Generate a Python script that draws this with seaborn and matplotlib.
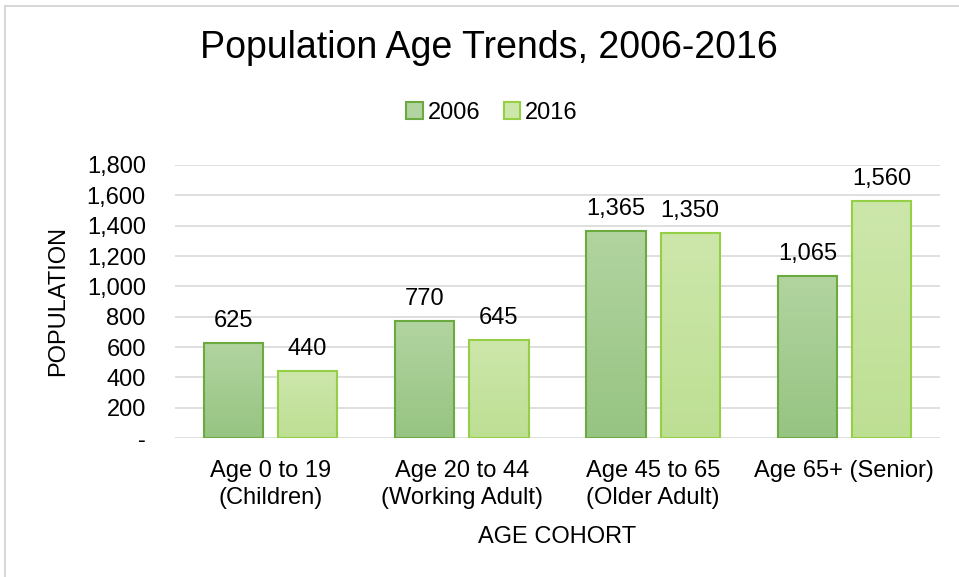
import matplotlib
matplotlib.use("Agg")
import matplotlib.pyplot as plt
import seaborn as sns
import pandas as pd
import numpy as np
from matplotlib.lines import Line2D
from matplotlib.patches import Patch
from matplotlib.colors import LinearSegmentedColormap

categories = ["Age 0 to 19\n(Children)", "Age 20 to 44\n(Working Adult)",
              "Age 45 to 65\n(Older Adult)", "Age 65+ (Senior)"]
years = ["2006", "2016"]
values_2006 = [625, 770, 1365, 1065]
values_2016 = [440, 645, 1350, 1560]

df = pd.DataFrame({
    "cohort": categories * 2,
    "year": [years[0]] * 4 + [years[1]] * 4,
    "pop": values_2006 + values_2016,
})

sns.set_theme(style="white")
plt.rcParams["font.family"] = ["Liberation Sans", "DejaVu Sans"]
plt.rcParams["text.color"] = "black"
plt.rcParams["axes.labelcolor"] = "black"
plt.rcParams["xtick.color"] = "black"
plt.rcParams["ytick.color"] = "black"

FS = 17

fig = plt.figure(figsize=(9.59, 5.77), dpi=100)
ax = fig.add_axes([175/959, 1-438/577, 765/959, (438-165)/577])

edge_cols = {"2006": "#6aaa3e", "2016": "#95cf45"}
top_cols = {"2006": "#b2d4a0", "2016": "#cde7ab"}
bot_cols = {"2006": "#96c482", "2016": "#bddf93"}

sns.barplot(data=df, x="cohort", y="pop", hue="year", hue_order=years,
            palette={"2006": "#a5cc92", "2016": "#c6e3a0"},
            width=0.775, gap=0.2, ax=ax, legend=False, errorbar=None,
            linewidth=1.5, zorder=3)

ax.set_xlim(-0.5, 3.5)
ax.set_ylim(0, 1800)

for i, cont in enumerate(ax.containers):
    yr = years[i]
    cmap = LinearSegmentedColormap.from_list("g", [top_cols[yr], bot_cols[yr]])
    labels = [f"{v:,.0f}" for v in cont.datavalues]
    texts = ax.bar_label(cont, labels=labels, padding=8, fontsize=FS, color="black")
    for t in texts:
        t.set_zorder(10)
    for p in cont.patches:
        p.set_edgecolor(edge_cols[yr])
        p.set_linewidth(1.5)
        x0, y0 = p.get_x(), p.get_y()
        w, h = p.get_width(), p.get_height()
        grad = np.linspace(1, 0, 256).reshape(-1, 1)
        im = ax.imshow(grad, cmap=cmap, aspect="auto", vmin=0, vmax=1,
                       extent=[x0, x0 + w, y0, y0 + h], zorder=3.5,
                       origin="lower")
        im.set_clip_path(p)
        p.set_facecolor("none")
        p.set_zorder(4)

ax.set_xlim(-0.5, 3.5)
ax.set_ylim(0, 1800)
ax.set_yticks(range(0, 1801, 200))
ax.set_yticklabels(["-"] + [f"{v:,}" for v in range(200, 1801, 200)], fontsize=FS)
ax.tick_params(axis="x", labelsize=FS, length=0, pad=16)
for lbl in ax.get_xticklabels():
    lbl.set_linespacing(1.3)
ax.tick_params(axis="y", length=0, pad=21)
ax.yaxis.grid(True, color="#d9d9d9", linewidth=1.2, zorder=0)
ax.set_axisbelow(True)
for s in ax.spines.values():
    s.set_visible(False)

ax.set_xlabel("AGE COHORT", fontsize=FS, labelpad=12)
ax.set_ylabel("POPULATION", fontsize=FS, labelpad=13)

fig.text(489/959, 1-48/577, "Population Age Trends, 2006-2016", fontsize=27,
         ha="center", va="center")

handles = [Patch(facecolor=top_cols[y], edgecolor=edge_cols[y], linewidth=1.5, label=y) for y in years]
fig.legend(handles=handles, loc="center", bbox_to_anchor=(492/959, 1-113/577),
           ncol=2, frameon=False, fontsize=FS, handlelength=0.7, handleheight=0.7,
           handletextpad=0.2, columnspacing=1.0)

fig.add_artist(Line2D([5/959, 5/959], [0, 1-6/577], transform=fig.transFigure,
                      color="#d0d0d0", linewidth=1.2))
fig.add_artist(Line2D([5/959, 1], [1-6/577, 1-6/577], transform=fig.transFigure,
                      color="#d0d0d0", linewidth=1.2))

fig.savefig("out.png", dpi=100, facecolor="white")
